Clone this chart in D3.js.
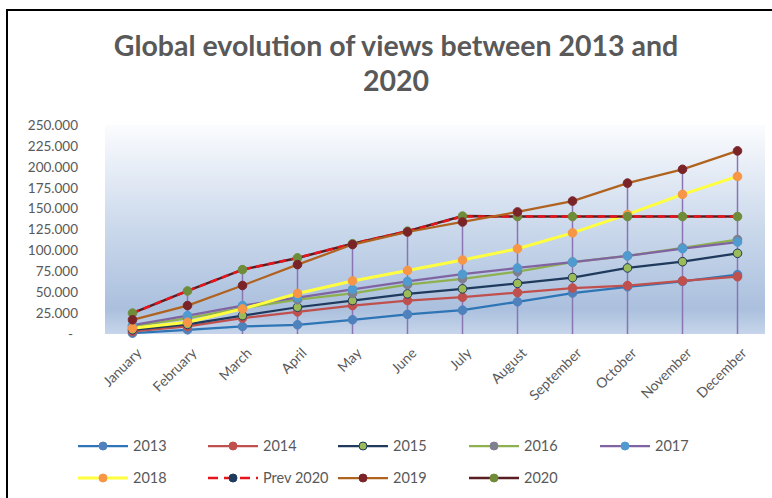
<!DOCTYPE html>
<html>
<head>
<meta charset="utf-8">
<script src="https://cdn.jsdelivr.net/npm/d3@7"></script>
<style>
  body { margin: 0; background: #fff; }
  svg { display: block; font-family: Lato, "Open Sans", sans-serif; }
</style>
</head>
<body>
<div class="chart"></div>
<script>
const months = ["January", "February", "March", "April", "May", "June",
  "July", "August", "September", "October", "November", "December"]

const yTicks = [0, 25000, 50000, 75000, 100000, 125000, 150000, 175000, 200000, 225000, 250000]

// values
const v2013 = [1000, 5000, 9000, 11000, 17000, 23500, 28500, 38500, 49000, 56500, 63000, 71000]
const v2014 = [3000, 9000, 19000, 26500, 34000, 40000, 44000, 49500, 55000, 58000, 63500, 68500]
const v2015 = [5000, 11500, 22000, 32000, 40000, 48000, 54000, 60500, 67500, 79000, 86500, 96500]
const v2016 = [9000, 19000, 31000, 41000, 48500, 59000, 66000, 74500, 86000, 93500, 103000, 113000]
const v2017 = [10500, 22000, 34000, 43500, 53500, 63000, 71500, 79000, 86000, 93500, 102000, 110000]
const v2018 = [7000, 14000, 30000, 48500, 63500, 76000, 88500, 102000, 121000, 143000, 167000, 188500]
const vPrev2020 = [25000, 51500, 77000, 91000, 108000, 123000, 140500, 140500, 140500, 140500, 140500, 140500]
const v2019 = [17000, 34000, 58000, 83000, 107000, 122000, 134000, 146000, 159000, 180500, 197000, 219000]
const v2020 = [25000, 51500, 77000, 91000, 108000, 123000, 141000, 140500, 140500, 140500, 140500, 140500]

const series = [
  { name: "2013", values: v2013, line: "#2e75b6", marker: "#4f81bd", stroke: "#4f81bd", w: 2.25 },
  { name: "2014", values: v2014, line: "#c0504d", marker: "#c0504d", stroke: "#c0504d", w: 2.25 },
  { name: "2015", values: v2015, line: "#1f3a5c", marker: "#9bbb59", stroke: "#1f3a5c", w: 2.25 },
  { name: "2016", values: v2016, line: "#8eb04f", marker: "#7f7f8f", stroke: "#7f7f8f", w: 2.25 },
  { name: "2017", values: v2017, line: "#8064a2", marker: "#4f9bd0", stroke: "#4f9bd0", w: 2.25 },
  { name: "2018", values: v2018, line: "#ffff40", marker: "#f79646", stroke: "#f79646", w: 3 },
  { name: "2020", values: v2020, line: "#5a1e22", marker: "#6f8c3a", stroke: "#6f8c3a", w: 2.5 },
  { name: "Prev 2020", values: vPrev2020, line: "#e8141b", marker: "#1f3a5c", stroke: "#1f3a5c", w: 2.5, dash: "7,5", noMarker: true },
  { name: "2019", values: v2019, line: "#b0621f", marker: "#7b2428", stroke: "#7b2428", w: 2.25 },
]

const width = 772, height = 498
const plot = { left: 105, right: 765, top: 125, bottom: 334 }

const svg = d3.select(".chart").append("svg")
  .attr("width", width)
  .attr("height", height)

// 外框
svg.append("rect")
  .attr("x", 7).attr("y", 10)
  .attr("width", 800).attr("height", 520)
  .attr("fill", "#fff")
  .attr("stroke", "#000")
  .attr("stroke-width", 2)

// 标题
const title = svg.append("text")
  .attr("text-anchor", "middle")
  .attr("fill", "#595959")
  .attr("font-size", 28.5)
  .attr("font-weight", "bold")
title.append("tspan").attr("x", 396).attr("y", 56).text("Global evolution of views between 2013 and")
title.append("tspan").attr("x", 396).attr("y", 91).text("2020")

// 渐变背景
const grad = svg.append("defs").append("linearGradient")
  .attr("id", "bg").attr("x1", 0).attr("y1", 0).attr("x2", 0).attr("y2", 1)
grad.append("stop").attr("offset", "0%").attr("stop-color", "#fbfcfe")
grad.append("stop").attr("offset", "50%").attr("stop-color", "#cad8eb")
grad.append("stop").attr("offset", "88%").attr("stop-color", "#abc0de")
grad.append("stop").attr("offset", "100%").attr("stop-color", "#c6d5ea")

svg.append("rect")
  .attr("x", plot.left).attr("y", plot.top)
  .attr("width", plot.right - plot.left).attr("height", plot.bottom - plot.top)
  .attr("fill", "url(#bg)")

// 比例尺
const scaleX = d3.scaleBand()
  .domain(months)
  .range([plot.left, plot.right])

const scaleY = d3.scaleLinear()
  .domain([0, 250000])
  .range([plot.bottom, plot.top])

const fmt = d3.formatLocale({ decimal: ",", thousands: ".", grouping: [3], currency: ["", ""] }).format(",")

// 纵坐标
svg.append("g")
  .attr("transform", `translate(${plot.left},0)`)
  .call(d3.axisLeft(scaleY).tickValues(yTicks).tickSize(0).tickPadding(27)
    .tickFormat((d) => (d === 0 ? "-" : fmt(d))))
  .call((g) => g.select(".domain").remove())
  .selectAll("text")
  .attr("fill", "#595959")
  .attr("font-size", 13.5)
  .attr("font-family", "Lato, sans-serif")
  .attr("dx", (d) => (d === 0 ? -5 : 0))

// 横坐标
const cx = (m) => scaleX(m) + scaleX.bandwidth() / 2
svg.append("g")
  .attr("transform", `translate(0,${plot.bottom})`)
  .call(d3.axisBottom(scaleX).tickSize(0).tickPadding(0))
  .call((g) => g.select(".domain").remove())
  .selectAll("text")
  .attr("fill", "#595959")
  .attr("font-size", 14)
  .attr("font-family", "Lato, sans-serif")
  .attr("text-anchor", "end")
  .attr("dy", 0)
  .attr("transform", "translate(10,20) rotate(-45)")

// 垂直线 (drop lines)
const allSeries = series.map((s) => s.values)
svg.append("g")
  .selectAll("line")
  .data(months)
  .join("line")
  .attr("x1", (m) => cx(m))
  .attr("x2", (m) => cx(m))
  .attr("y1", (m, i) => scaleY(d3.max(allSeries, (vals) => vals[i])))
  .attr("y2", plot.bottom)
  .attr("stroke", "#8a74b4")
  .attr("stroke-width", 1.5)

// 折线
const line = d3.line()
  .x((d, i) => cx(months[i]))
  .y((d) => scaleY(d))

series.forEach((s) => {
  svg.append("path")
    .datum(s.values)
    .attr("fill", "none")
    .attr("stroke", s.line)
    .attr("stroke-width", s.w)
    .attr("stroke-dasharray", s.dash || null)
    .attr("d", line)
})

series.forEach((s) => {
  if (s.noMarker) return
  svg.append("g")
    .selectAll("circle")
    .data(s.values)
    .join("circle")
    .attr("cx", (d, i) => cx(months[i]))
    .attr("cy", (d) => scaleY(d))
    .attr("r", 4.3)
    .attr("fill", s.marker)
    .attr("stroke", s.stroke)
    .attr("stroke-width", 1)
})

// 图例
const legendOrder = ["2013", "2014", "2015", "2016", "2017", "2018", "Prev 2020", "2019", "2020"]
const colX = [78, 208, 338, 469, 600]
const legend = svg.append("g")
legendOrder.forEach((name, i) => {
  const s = series.find((d) => d.name === name)
  const col = i < 5 ? i : i - 5
  const y = i < 5 ? 446 : 478
  const x = colX[col]
  const g = legend.append("g").attr("transform", `translate(${x},${y})`)
  g.append("line")
    .attr("x1", 0).attr("x2", 50)
    .attr("stroke", s.line)
    .attr("stroke-width", s.w)
    .attr("stroke-dasharray", s.dash ? "10,6" : null)
  g.append("circle")
    .attr("cx", 25).attr("r", 4)
    .attr("fill", s.marker)
    .attr("stroke", s.stroke)
  g.append("text")
    .attr("x", 55).attr("dy", "0.35em")
    .attr("fill", "#595959")
    .attr("font-size", 14.5)
    .text(name)
})
</script>
</body>
</html>
